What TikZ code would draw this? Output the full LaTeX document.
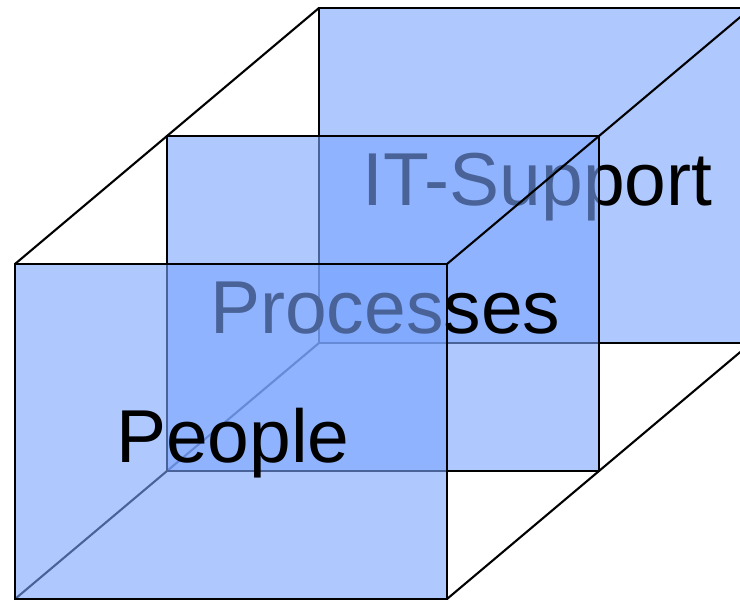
\documentclass[tikz,border=0pt]{standalone}
\usepackage{fontspec}
\setmainfont{Liberation Sans}
\definecolor{panelblue}{RGB}{122,165,255}
\begin{document}
\begin{tikzpicture}[x=1pt,y=-1pt,
  panel/.style={fill=panelblue, fill opacity=0.6, draw=black, line width=2.3pt},
  edgeline/.style={draw=black, line width=2.1pt},
  lbl/.style={anchor=base west, inner sep=0pt, font=\fontsize{75}{75}\selectfont, text=black}]
\useasboundingbox (0,0) rectangle (740,600);
\clip (0,0) rectangle (740,600);
% corners
\coordinate (fTL) at (15,264);  \coordinate (fTR) at (447,264);
\coordinate (fBL) at (15,599);  \coordinate (fBR) at (447,599);
\coordinate (mTL) at (167,136); \coordinate (mBR) at (599,471);
\coordinate (bTL) at (319,8);   \coordinate (bTR) at (751,8);
\coordinate (bBL) at (319,343); \coordinate (bBR) at (751,343);
% drawing
\draw[edgeline] (fBL) -- (bBL);
\draw[panel] (bTL) rectangle (bBR);
\node[lbl] (it) at (362,205) {IT-Support};
\draw[panel] (mTL) rectangle (mBR);
\draw[edgeline] (fTR) -- (bTR);
\node[lbl] (proc) at (210,333) {Processes};
\draw[panel] (fTL) rectangle (fBR);
\node[lbl] (people) at (116,462) {People};
\draw[edgeline] (fTL) -- (bTL);
\draw[edgeline] (fBR) -- (bBR);
\end{tikzpicture}
\end{document}
